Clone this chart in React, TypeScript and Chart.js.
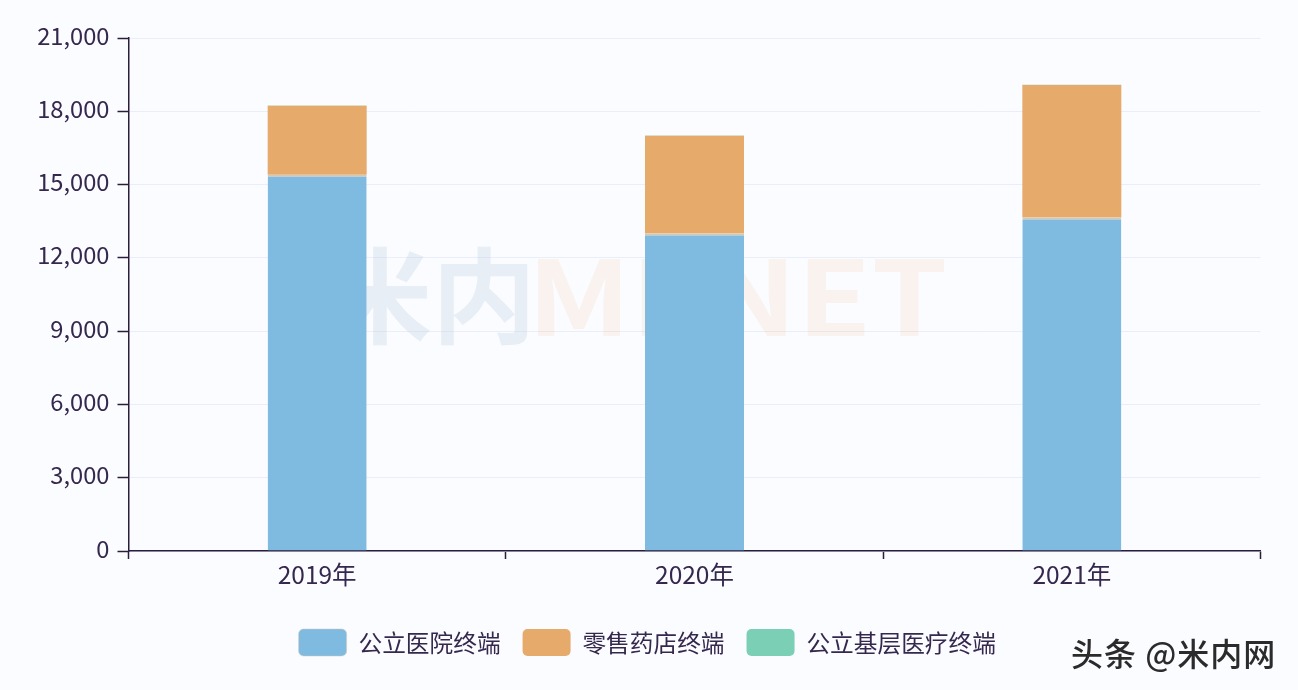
import React, { useEffect, useRef } from "react";
import { Chart, registerables } from "chart.js";

Chart.register(...registerables);

const categories = ["2019年", "2020年", "2021年"];
const hospitalValues = [15400, 13000, 13650];
const pharmacyValues = [2830, 4000, 5430];
const primaryCareValues = [10, 10, 10];
const seriesNames = ["公立医院终端", "零售药店终端", "公立基层医疗终端"];
const FONT = '"Noto Sans CJK SC", "Noto Sans", sans-serif';
const INK = "#35274d";

const overlayText = {
  id: "overlayText",
  beforeDatasetsDraw(chart: any) {
    const c = chart.ctx;
    c.save();
    c.textBaseline = "middle";
    c.textAlign = "left";
    c.font = `700 104px ${FONT}`;
    c.fillStyle = "rgba(190,208,224,0.33)";
    c.fillText("米内", 328, 296);
    c.fillStyle = "rgba(242,190,140,0.15)";
    c.font = `700 104px ${FONT}`;
    c.translate(527, 296);
    c.scale(1.17, 1);
    c.fillText("MENET", 0, 0);
    c.restore();
  },
  afterDraw(chart: any) {
    const c = chart.ctx;
    c.save();
    c.textBaseline = "middle";
    c.textAlign = "left";
    c.font = `500 32px ${FONT}`;
    (c as any).letterSpacing = "1px";
    c.fillStyle = "#2b2b2b";
    c.fillText("头条 @米内网", 1071, 654);
    c.restore();
  },
};

export default function App() {
  const ref = useRef<HTMLCanvasElement>(null);
  useEffect(() => {
    document.body.style.margin = "0";
    document.body.style.background = "#fbfcff";
    const chart = new Chart(ref.current!, {
      type: "bar",
      data: {
        labels: categories,
        datasets: [
          {
            label: seriesNames[0],
            data: hospitalValues,
            backgroundColor: "#7fbbe1",
            borderColor: "#d3c8b4",
            borderWidth: { top: 2, left: 0, right: 0, bottom: 0 },
            borderSkipped: false,
            stack: "s",
          },
          { label: seriesNames[1], data: pharmacyValues, backgroundColor: "#e6aa6b", stack: "s" },
          { label: seriesNames[2], data: primaryCareValues, backgroundColor: "#7bcfb5", stack: "s" },
        ],
      },
      options: {
        animation: false,
        responsive: false,
        devicePixelRatio: 1,
        layout: { padding: { top: 38, right: 37.5, left: 34, bottom: 24 } },
        datasets: { bar: { categoryPercentage: 1, barPercentage: 0.2624 } },
        plugins: {
          tooltip: { enabled: false },
          legend: {
            position: "bottom",
            labels: {
              boxWidth: 48,
              boxHeight: 27,
              padding: 22,
              useBorderRadius: true,
              borderRadius: 5,
              color: INK,
              font: { family: FONT, size: 23.7 },
            },
          },
        },
        scales: {
          x: {
            stacked: true,
            afterFit: (s: any) => { s.height = 56; },
            border: { color: "#2a1c3d", width: 1.5 },
            grid: { drawOnChartArea: false, tickLength: 8, tickColor: "#2a1c3d", tickWidth: 1.5 },
            ticks: { color: INK, padding: 1, font: { family: FONT, size: 24.5 } },
          },
          y: {
            stacked: true,
            min: 0,
            max: 21000,
            afterFit: (s: any) => { s.width = 94.5; },
            border: { color: "#2a1c3d", width: 1.5 },
            grid: { color: "#e9eef8", tickLength: 11, tickColor: "#2a1c3d", tickWidth: 1.5 },
            ticks: {
              stepSize: 3000,
              color: INK,
              padding: 8,
              labelOffset: -2.5,
              font: { family: FONT, size: 23.7 },
              callback: (v: any) => Number(v).toLocaleString("en-US"),
            },
          },
        },
      },
      plugins: [overlayText],
    } as any);
    return () => chart.destroy();
  }, []);
  return <canvas ref={ref} width={1298} height={690} style={{ display: "block" }} />;
}
